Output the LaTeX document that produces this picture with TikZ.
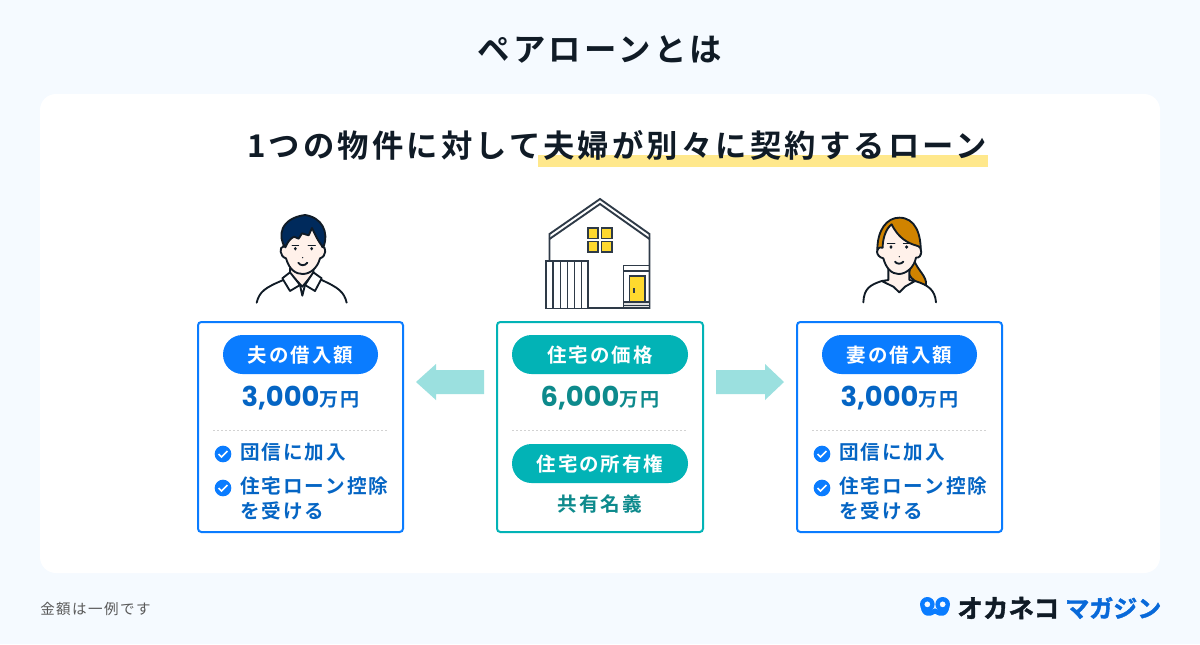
\documentclass[tikz,border=0pt]{standalone}
\usepackage{fontspec}
\setmainfont{Noto Sans CJK JP}[BoldFont={* Bold},LetterSpace=10]
\newfontfamily\numfont{Poppins}[BoldFont={* Bold}]
\newfontfamily\logofont{Noto Sans CJK JP}[BoldFont={* Bold},BoldFeatures={FakeBold=1.6}]
\usepackage{tikz}

\definecolor{pagebg}{HTML}{F5FAFF}
\definecolor{inkdark}{HTML}{101B26}
\definecolor{blueline}{HTML}{0A7CFF}
\definecolor{bluetext}{HTML}{0565C4}
\definecolor{tealline}{HTML}{02B3B6}
\definecolor{tealtext}{HTML}{0D8A8C}
\definecolor{arrowteal}{HTML}{9BE0DF}
\definecolor{marker}{HTML}{FFE88C}
\definecolor{skin}{HTML}{FFF1EA}
\definecolor{navyhair}{HTML}{002A5C}
\definecolor{brownhair}{HTML}{D08300}
\definecolor{windowyellow}{HTML}{FFD92E}
\definecolor{housegray}{HTML}{2E3A47}
\newcommand{\sizepx}[1]{\fontsize{#1}{#1}\selectfont}

\tikzset{
  frame/.style={rounded corners=2.5,line width=1.5pt,draw=#1,fill=white},
  pill/.style={rounded corners=14.6,fill=#1},
  pilltext/.style={text=white,font=\sizepx{14.6}\bfseries,inner sep=0},
  amount/.style={text=#1,inner sep=0},
  item/.style={anchor=west,text=bluetext,font=\sizepx{14.7}\bfseries,inner sep=0},
  divider/.style={dash pattern=on 1.5pt off 1.5pt,line width=.7pt,gray!35},
  checkdot/.style={circle,fill=blueline,inner sep=0,minimum size=12.5pt},
  outline/.style={line width=1.4pt,inkdark,line cap=round,line join=round},
  house/.style={line width=1.4pt,housegray,line join=miter},
}

\begin{document}
\begin{tikzpicture}[x=.75pt,y=-.75pt]
  \useasboundingbox (0,0) rectangle (1200,644);
  \fill[pagebg] (0,0) rectangle (1200,644);
  \fill[white,rounded corners=12] (40,94) rectangle (1160,573);

  \node[text=inkdark,font=\sizepx{24.3}\bfseries,inner sep=0] (title) at (600,49.5) {ペアローンとは};
  \fill[marker] (538,155) rectangle (988,167);
  \node[text=inkdark,font=\sizepx{23.5}\bfseries,inner sep=0] (lead) at (617,145) {1つの物件に対して夫婦が別々に契約するローン};

  % husband
  \begin{scope}[shift={(230,190)},scale=1/3]
    \draw[outline,fill=white] (80,338) .. controls (88,305) and (105,293) .. (160,270) -- (275,270)
      .. controls (325,293) and (342,305) .. (350,338);
    \draw[outline,fill=skin] (180,235) -- (180,250) -- (217,290) -- (250,250) -- (250,235) -- cycle;
    \draw[outline,fill=skin] (160,170) .. controls (148,168) and (148,200) .. (168,205)
      .. controls (178,240) and (198,252) .. (218,252) .. controls (240,252) and (262,235) .. (270,205)
      .. controls (290,200) and (290,168) .. (276,170) -- (270,110) -- (165,110) -- cycle;
    \draw[outline,fill=navyhair] (166,172) .. controls (142,140) and (150,85) .. (225,75)
      .. controls (275,82) and (298,125) .. (280,172) .. controls (268,160) and (258,140) .. (246,114)
      -- (236,136) -- (216,130) -- (206,146) -- (192,140) .. controls (180,146) and (172,158) .. (166,172) -- cycle;
    \draw[outline,fill=white] (157,265) -- (180,247) -- (210,285) -- (180,303) -- cycle;
    \draw[outline,fill=white] (275,265) -- (250,247) -- (225,285) -- (255,303) -- cycle;
    \draw[outline] (210,285) -- (217,317) -- (225,285);
    \fill[inkdark] (196,176) ellipse (4.5 and 5.5);
    \fill[inkdark] (245,176) ellipse (4.5 and 5.5);
    \draw[outline,line width=.7pt] (186,165) -- (206,165) (234,165) -- (256,165);
    \fill[inkdark] (218,203) circle (2.2);
    \draw[outline] (205,218) .. controls (210,228) and (226,228) .. (232,218);
  \end{scope}

  % house
  \fill[white] (600,199) -- (549.5,234) -- (549.5,308) -- (649.5,308) -- (649.5,234) -- cycle;
  \draw[house] (549.5,261) -- (549.5,234) -- (600,199) -- (649.5,234) -- (649.5,308) -- (588,308);
  \draw[house] (549.5,239) -- (600,204) -- (649.5,239);
  \draw[house] (546,261) rectangle (588,308.5);
  \foreach \x in {553,560.5,567.5,574.5,581.5} {
    \draw[house] (\x,261) -- (\x,308.5);
  }
  \draw[house,fill=windowyellow] (588,228) rectangle (598,238.5);
  \draw[house,fill=windowyellow] (601.5,228) rectangle (612,238.5);
  \draw[house,fill=windowyellow] (588,241.5) rectangle (598,252);
  \draw[house,fill=windowyellow] (601.5,241.5) rectangle (612,252);
  \draw[house] (623.5,308) -- (623.5,265.5) -- (649.5,265.5) (623.5,271) -- (649.5,271);
  \draw[house,fill=gray!25] (623.5,302) rectangle (649.5,308);
  \draw[house,fill=windowyellow] (629.5,276) rectangle (645,302);
  \draw[housegray,line width=1pt] (634,288) -- (634,293);
  \draw[house,line width=.7pt] (623.5,305) -- (649.5,305);

  % wife
  \begin{scope}[shift={(840,205)},scale=1/3]
    \draw[outline,fill=brownhair] (222,165) .. controls (232,195) and (262,215) .. (258,240)
      .. controls (235,238) and (215,225) .. (205,205) -- cycle;
    \draw[outline,fill=white] (70,292) .. controls (72,250) and (90,240) .. (125,228) -- (225,228)
      .. controls (265,240) and (285,255) .. (288,292);
    \draw[outline,fill=skin] (145,190) -- (145,225) -- (125,228) -- (160,245) -- (178,262) -- (195,245)
      -- (225,228) -- (208,225) -- (208,190) -- cycle;
    \draw[outline,fill=brownhair] (112,135) .. controls (112,75) and (140,38) .. (178,38)
      .. controls (225,38) and (245,85) .. (242,150) -- (125,150) -- cycle;
    \draw[outline,fill=skin] (128,128) .. controls (105,122) and (105,155) .. (130,160)
      .. controls (138,190) and (155,207) .. (176,207) .. controls (198,207) and (222,188) .. (228,158)
      .. controls (248,160) and (250,125) .. (230,122) .. controls (205,115) and (175,100) .. (155,58)
      .. controls (138,70) and (128,100) .. (128,128) -- cycle;
    \fill[inkdark] (153,126) ellipse (5 and 5.5);
    \fill[inkdark] (200,126) ellipse (5 and 5.5);
    \draw[outline,line width=.7pt] (142,115) -- (165,115) (190,115) -- (213,115);
    \fill[inkdark] (178,155) circle (2.2);
    \draw[outline] (165,170) .. controls (170,178) and (184,178) .. (190,170);
  \end{scope}

  % husband box
  \draw[frame=blueline] (198,322) rectangle (403,532);
  \fill[pill=blueline] (223,335) rectangle (378,374);
  \node[pilltext] (husbandpill) at (300.5,355) {夫の借入額};
  \node[amount=bluetext] (husbandloan) at (300.5,398.5) {{\numfont\bfseries\sizepx{20.5}3,000}{\sizepx{14.3}\bfseries 万円}};
  \draw[divider] (213,430.5) -- (388,430.5);
  \node[checkdot] (hcheckA) at (223,454) {};
  \draw[white,line width=1.2pt] (218.5,454) -- (221.5,457) -- (227.5,451);
  \node[item] (hitemA) at (240,452) {団信に加入};
  \node[checkdot] (hcheckB) at (223,488) {};
  \draw[white,line width=1.2pt] (218.5,488) -- (221.5,491) -- (227.5,485);
  \node[item] (hitemB) at (240,486) {住宅ローン控除};
  \node[item] (hitemC) at (240,511) {を受ける};

  % house box
  \draw[frame=tealline] (497,322) rectangle (703,532);
  \fill[pill=tealline] (512,335) rectangle (688,374);
  \node[pilltext] (pricepill) at (600,355) {住宅の価格};
  \node[amount=tealtext] (price) at (600,398.5) {{\numfont\bfseries\sizepx{20.5}6,000}{\sizepx{14.3}\bfseries 万円}};
  \draw[divider] (512,430.5) -- (688,430.5);
  \fill[pill=tealline] (512,444) rectangle (688,483);
  \node[pilltext] (ownerpill) at (600,464) {住宅の所有権};
  \node[amount=tealtext,font=\sizepx{14.7}\bfseries] (owner) at (600,504) {共有名義};

  % wife box
  \draw[frame=blueline] (797,322) rectangle (1002,532);
  \fill[pill=blueline] (822,335) rectangle (977,374);
  \node[pilltext] (wifepill) at (899.5,355) {妻の借入額};
  \node[amount=bluetext] (wifeloan) at (899.5,398.5) {{\numfont\bfseries\sizepx{20.5}3,000}{\sizepx{14.3}\bfseries 万円}};
  \draw[divider] (812,430.5) -- (987,430.5);
  \node[checkdot] (wcheckA) at (822,454) {};
  \draw[white,line width=1.2pt] (817.5,454) -- (820.5,457) -- (826.5,451);
  \node[item] (witemA) at (839,452) {団信に加入};
  \node[checkdot] (wcheckB) at (822,488) {};
  \draw[white,line width=1.2pt] (817.5,488) -- (820.5,491) -- (826.5,485);
  \node[item] (witemB) at (839,486) {住宅ローン控除};
  \node[item] (witemC) at (839,511) {を受ける};

  % block arrows
  \fill[arrowteal] (484,370) -- (436,370) -- (436,364) -- (416,382) -- (436,400) -- (436,394) -- (484,394) -- cycle;
  \fill[arrowteal] (716,370) -- (765,370) -- (765,364) -- (784,382) -- (765,400) -- (765,394) -- (716,394) -- cycle;

  % footer
  \node[anchor=west,text=black!65,font=\sizepx{10.9},inner sep=0] (note) at (40,608.5) {金額は一例です};
  \begin{scope}[shift={(900,585)},scale=1/3]
    \fill[blueline,even odd rule] (82,58) circle (22) (82,58) circle (9) (128,58) circle (22) (128,58) circle (9);
    \fill[blueline] (62,66) .. controls (66,98) and (92,96) .. (105,86) .. controls (118,96) and (144,98) .. (148,66)
      .. controls (140,78) and (120,80) .. (105,70) .. controls (90,80) and (70,78) .. (62,66) -- cycle;
  \end{scope}
  \node[anchor=west,text=inkdark,font=\logofont\sizepx{19.2}\bfseries,inner sep=0] (logoA) at (957,608) {オカネコ};
  \node[anchor=west,text=blueline!85!black,font=\logofont\sizepx{18}\bfseries,inner sep=0] (logoB) at (1065,608) {マガジン};
\end{tikzpicture}
\end{document}
